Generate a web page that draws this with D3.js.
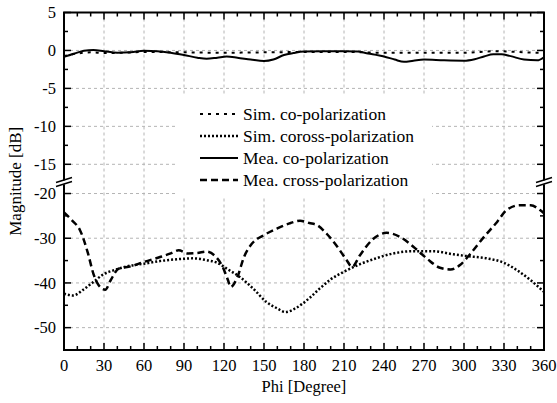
<!DOCTYPE html>
<html>
<head>
<meta charset="utf-8">
<script src="https://cdn.jsdelivr.net/npm/d3@7"></script>
<style>
  html, body { margin: 0; padding: 0; background: #fff; }
  svg { display: block; }
</style>
</head>
<body>
<svg id="chart" width="557" height="403" font-family="'Liberation Serif', 'Times New Roman', 'DejaVu Serif', serif"></svg>
<script>
// Radiation pattern: magnitude (dB) vs. azimuth Phi (degrees)
const simCoPhi   = [0, 10, 20, 30, 45, 60, 90, 120, 150, 180, 210, 240, 270, 300, 325, 335, 345, 360];
const simCoVal   = [-0.75, -0.4, -0.25, -0.35, -0.3, -0.2, -0.25, -0.3, -0.25, -0.2, -0.2, -0.3, -0.3, -0.3, -0.1, -0.15, -0.25, -0.3];

const simCrossPhi = [0, 7, 14, 22, 30, 37, 47, 60, 72, 85, 97, 107, 115, 122, 132, 142, 152, 160, 166, 174, 184, 192, 200, 210, 222, 235, 247, 262, 277, 292, 302, 317, 330, 340, 350, 360];
const simCrossVal = [-42.4, -42.8, -41.6, -39.8, -38, -37.2, -36.3, -35.7, -35.1, -34.7, -34.5, -34.9, -35.5, -36.8, -38.7, -41.3, -44.3, -45.7, -46.5, -45.6, -43.4, -41.2, -39.2, -37.5, -35.8, -34.4, -33.4, -32.9, -32.9, -33.6, -34, -34.5, -35.5, -37.2, -39.4, -42];

const meaCoPhi = [0, 8, 15, 22, 30, 40, 50, 60, 70, 80, 90, 100, 107, 115, 122, 130, 140, 150, 157, 165, 172, 180, 195, 210, 220, 228, 240, 248, 255, 262, 270, 285, 300, 308, 315, 322, 328, 335, 345, 355, 360];
const meaCoVal = [-0.85, -0.4, -0.05, 0.05, -0.1, -0.3, -0.25, -0.05, -0.1, -0.3, -0.6, -0.95, -1.1, -0.95, -0.8, -0.95, -1.2, -1.4, -1.2, -0.6, -0.35, -0.15, -0.1, -0.1, -0.15, -0.4, -0.8, -1.2, -1.5, -1.35, -1.2, -1.3, -1.35, -1.15, -0.8, -0.5, -0.5, -0.75, -1.2, -1.3, -0.9];

const meaCrossPhi = [0, 6, 12, 18, 22, 26, 31, 35, 41, 50, 60, 72, 80, 86, 93, 100, 107, 114, 119, 123, 125, 130, 135, 141, 150, 160, 170, 177, 184, 190, 197, 205, 212, 216, 222, 231, 242, 252, 262, 272, 282, 290, 297, 305, 315, 325, 332, 342, 350, 357, 360];
const meaCrossVal = [-24.2, -26, -28.2, -33.4, -37.9, -40.5, -41.5, -39.4, -36.8, -36.3, -35.3, -34.2, -33.4, -32.7, -33.4, -33.3, -33, -34.2, -36.4, -39.4, -40.9, -38.7, -34.2, -31.2, -29.3, -27.8, -26.6, -26.1, -26.6, -27.1, -29, -31.9, -34.9, -36.4, -33.8, -30.4, -28.8, -29.7, -31.9, -34.5, -36.6, -37, -36, -33.4, -29.7, -26.3, -23.7, -22.6, -22.6, -23.7, -24.4];

const xMajorTicks = [0, 30, 60, 90, 120, 150, 180, 210, 240, 270, 300, 330, 360];
const xMinorTicks = d3.range(0, 361, 10).filter(v => v % 30 !== 0);
const yMajorTicks = [5, 0, -5, -10, -15, -20, -30, -40, -50];
const yMinorTicks = [2.5, -2.5, -7.5, -12.5, -25, -35, -45, -55];
const yGridTicks  = [0, -5, -10, -15, -20, -30, -40, -50];

const legendLabels = ["Sim. co-polarization", "Sim. coross-polarization", "Mea. co-polarization", "Mea. cross-polarization"];

const svg = d3.select("#chart");
const L = 64, R = 544, T = 12.5, B = 350;
const breakY = 181;

const x = d3.scaleLinear().domain([0, 360]).range([L, R]);
// broken axis: 5 … -17.2 on the upper part, -17.2 … -55 on the lower part
const y = d3.scaleLinear().domain([5, -17.2, -55]).range([T, breakY, B]);

// grid
const grid = svg.append("g").attr("stroke", "#b4b4b4").attr("stroke-width", 1).attr("stroke-dasharray", "3,3");
xMajorTicks.filter(v => v > 0 && v < 360).forEach(v => {
  grid.append("line").attr("x1", x(v)).attr("x2", x(v)).attr("y1", T).attr("y2", B);
});
yGridTicks.forEach(v => {
  grid.append("line").attr("x1", L).attr("x2", R).attr("y1", y(v)).attr("y2", y(v));
});

// series
const series = [
  { phi: simCoPhi, val: simCoVal, dash: "3,5", width: 2 },
  { phi: simCrossPhi, val: simCrossVal, dash: "2,2", width: 2.5 },
  { phi: meaCoPhi, val: meaCoVal, dash: null, width: 2 },
  { phi: meaCrossPhi, val: meaCrossVal, dash: "7,4", width: 2.5 }
];

const line = d3.line().x(d => x(d[0])).y(d => y(d[1])).curve(d3.curveMonotoneX);

svg.append("defs").append("clipPath").attr("id", "plotClip")
  .append("rect").attr("x", L).attr("y", T).attr("width", R - L).attr("height", B - T);

const plot = svg.append("g").attr("clip-path", "url(#plotClip)");
series.forEach(s => {
  plot.append("path")
    .datum(s.phi.map((p, i) => [p, s.val[i]]))
    .attr("d", line)
    .attr("fill", "none")
    .attr("stroke", "#000")
    .attr("stroke-width", s.width)
    .attr("stroke-dasharray", s.dash);
});

// legend
const lg = svg.append("g");
lg.append("rect").attr("x", 176).attr("y", 96).attr("width", 256).attr("height", 100).attr("fill", "#fff");
const rowY = [114, 136, 158, 180];
legendLabels.forEach((lab, i) => {
  const s = series[i];
  lg.append("line").attr("x1", 200).attr("x2", 238).attr("y1", rowY[i]).attr("y2", rowY[i])
    .attr("stroke", "#000").attr("stroke-width", s.width).attr("stroke-dasharray", s.dash);
  lg.append("text").attr("x", 243).attr("y", rowY[i]).attr("dy", "0.35em")
    .attr("font-size", 17.5).attr("fill", "#000").text(lab);
});

// axes frame and ticks
const ax = svg.append("g").attr("stroke", "#000");
ax.append("rect").attr("x", L).attr("y", T).attr("width", R - L).attr("height", B - T)
  .attr("fill", "none").attr("stroke-width", 2);

xMajorTicks.forEach(v => {
  ax.append("line").attr("x1", x(v)).attr("x2", x(v)).attr("y1", B).attr("y2", B - 7).attr("stroke-width", 1.5);
  ax.append("line").attr("x1", x(v)).attr("x2", x(v)).attr("y1", T).attr("y2", T + 7).attr("stroke-width", 1.5);
});
xMinorTicks.forEach(v => {
  ax.append("line").attr("x1", x(v)).attr("x2", x(v)).attr("y1", B).attr("y2", B - 4).attr("stroke-width", 1.5);
  ax.append("line").attr("x1", x(v)).attr("x2", x(v)).attr("y1", T).attr("y2", T + 4).attr("stroke-width", 1.5);
});
yMajorTicks.forEach(v => {
  ax.append("line").attr("x1", L).attr("x2", L + 7).attr("y1", y(v)).attr("y2", y(v)).attr("stroke-width", 1.5);
  ax.append("line").attr("x1", R).attr("x2", R - 7).attr("y1", y(v)).attr("y2", y(v)).attr("stroke-width", 1.5);
});
yMinorTicks.forEach(v => {
  ax.append("line").attr("x1", L).attr("x2", L + 4).attr("y1", y(v)).attr("y2", y(v)).attr("stroke-width", 1.5);
  ax.append("line").attr("x1", R).attr("x2", R - 4).attr("y1", y(v)).attr("y2", y(v)).attr("stroke-width", 1.5);
});

// axis break marks
[L, R].forEach(cx => {
  const g = svg.append("g");
  g.append("polygon")
    .attr("points", `${cx - 3},${breakY + 0.5} ${cx + 3},${breakY - 1.5} ${cx + 3},${breakY + 2.5} ${cx - 3},${breakY + 4.5}`)
    .attr("fill", "#fff");
  g.append("line").attr("x1", cx - 8).attr("y1", breakY + 1.5).attr("x2", cx + 8).attr("y2", breakY - 3.5)
    .attr("stroke", "#000").attr("stroke-width", 1.5);
  g.append("line").attr("x1", cx - 8).attr("y1", breakY + 5.5).attr("x2", cx + 8).attr("y2", breakY + 0.5)
    .attr("stroke", "#000").attr("stroke-width", 1.5);
});

// tick labels
const labels = svg.append("g").attr("font-size", 16.5).attr("fill", "#000");
xMajorTicks.forEach(v => {
  labels.append("text").attr("x", x(v)).attr("y", B + 21).attr("text-anchor", "middle").text(v);
});
yMajorTicks.forEach(v => {
  labels.append("text").attr("x", L - 8).attr("y", y(v)).attr("dy", "0.35em").attr("text-anchor", "end").text(v);
});

// axis titles
svg.append("text").attr("x", (L + R) / 2).attr("y", 392).attr("text-anchor", "middle")
  .attr("font-size", 16.5).attr("fill", "#000").text("Phi [Degree]");
svg.append("text").attr("transform", `translate(21,${(T + B) / 2}) rotate(-90)`)
  .attr("text-anchor", "middle").attr("font-size", 17).attr("fill", "#000").text("Magnitude [dB]");
</script>
</body>
</html>
